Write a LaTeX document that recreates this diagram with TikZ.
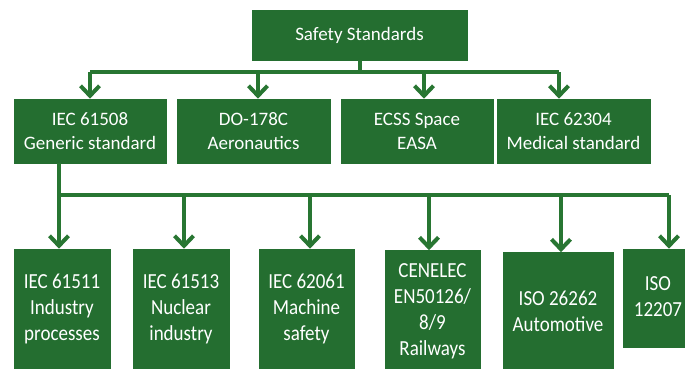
\documentclass[tikz,border=0pt]{standalone}
\usepackage{fontspec}
\usepackage{graphicx}
\setmainfont{Carlito}
\usetikzlibrary{arrows.meta}
\definecolor{boxgreen}{RGB}{36,110,48}
\definecolor{linegreen}{RGB}{40,118,50}
\newcommand{\tallstack}[1]{\scalebox{1}[1.13]{\begin{tabular}{@{}c@{}}#1\end{tabular}}}
\tikzset{
  box/.style={draw=boxgreen, fill=boxgreen, text=white, align=center, inner sep=0pt, line width=0.6pt,
    font=\fontsize{19}{24}\selectfont},
  lowbox/.style={box, font=\fontsize{19}{23}\selectfont},
  conn/.style={draw=linegreen, line width=4pt},
  arr/.style={conn, -{Straight Barb[length=10pt,width=19pt,line width=4pt]}}
}
\begin{document}
\begin{tikzpicture}[x=1pt,y=-1pt]
\useasboundingbox (0,0) rectangle (685,368);
\clip (0,0) rectangle (685,368);
\fill[white] (0,0) rectangle (685,368);
% top
\node[box, minimum width=215pt, minimum height=50pt] (top) at (359.5,35) {Safety Standards};
% row 1
\node[box, minimum width=152pt, minimum height=64pt] (r1) at (90,131) {IEC 61508\\Generic standard};
\node[box, minimum width=153pt, minimum height=64pt] (r2) at (253.5,131) {DO-178C\\Aeronautics};
\node[box, minimum width=152pt, minimum height=64pt] (r3) at (417,131) {ECSS Space\\EASA};
\node[box, minimum width=153pt, minimum height=64pt] (r4) at (573.5,131) {IEC 62304\\Medical standard};
% row 2
\node[lowbox, minimum width=96pt, minimum height=121pt] (b1) at (62,309.5) {\tallstack{IEC 61511\\Industry\\processes}};
\node[lowbox, minimum width=96pt, minimum height=121pt] (b2) at (181,309.5) {\tallstack{IEC 61513\\Nuclear\\industry}};
\node[lowbox, minimum width=95pt, minimum height=121pt] (b3) at (306.5,309.5) {\tallstack{IEC 62061\\Machine\\safety}};
\node[lowbox, minimum width=95pt, minimum height=121pt] (b4) at (432.5,311) {\tallstack{CENELEC\\EN50126/\\8/9\\Railways}};
\node[lowbox, minimum width=110pt, minimum height=121pt] (b5) at (558,313) {\tallstack{ISO 26262\\Automotive}};
\node[lowbox, minimum width=70pt, minimum height=98pt] (b6) at (658,298) {\tallstack{ISO\\12207}};
% connectors level 1
\coordinate (j1) at (360,72);
\coordinate (h1) at (90,72);
\coordinate (h2) at (258,72);
\coordinate (h3) at (424,72);
\coordinate (h4) at (559,72);
\draw[conn] (top.south -| j1) -- (j1);
\draw[conn] (h1) -- (h4);
\draw[arr] (h1) -- (h1 |- r1.north);
\draw[arr] (h2) -- (h2 |- r2.north);
\draw[arr] (h3) -- (h3 |- r3.north);
\draw[arr] (h4) -- (h4 |- r4.north);
% connectors level 2
\coordinate (k0) at (59,163);
\coordinate (k1) at (59,195);
\coordinate (k2) at (184,195);
\coordinate (k3) at (310,195);
\coordinate (k4) at (429,195);
\coordinate (k5) at (561,195);
\coordinate (k6) at (669,195);
\draw[conn] (k0 |- r1.south) -- (k1);
\draw[conn] (k1) -- (k6);
\draw[arr] (k1) -- (k1 |- b1.north);
\draw[arr] (k2) -- (k2 |- b2.north);
\draw[arr] (k3) -- (k3 |- b3.north);
\draw[arr] (k4) -- (k4 |- b4.north);
\draw[arr] (k5) -- (k5 |- b5.north);
\draw[arr] (k6) -- (k6 |- b6.north);
\end{tikzpicture}
\end{document}
